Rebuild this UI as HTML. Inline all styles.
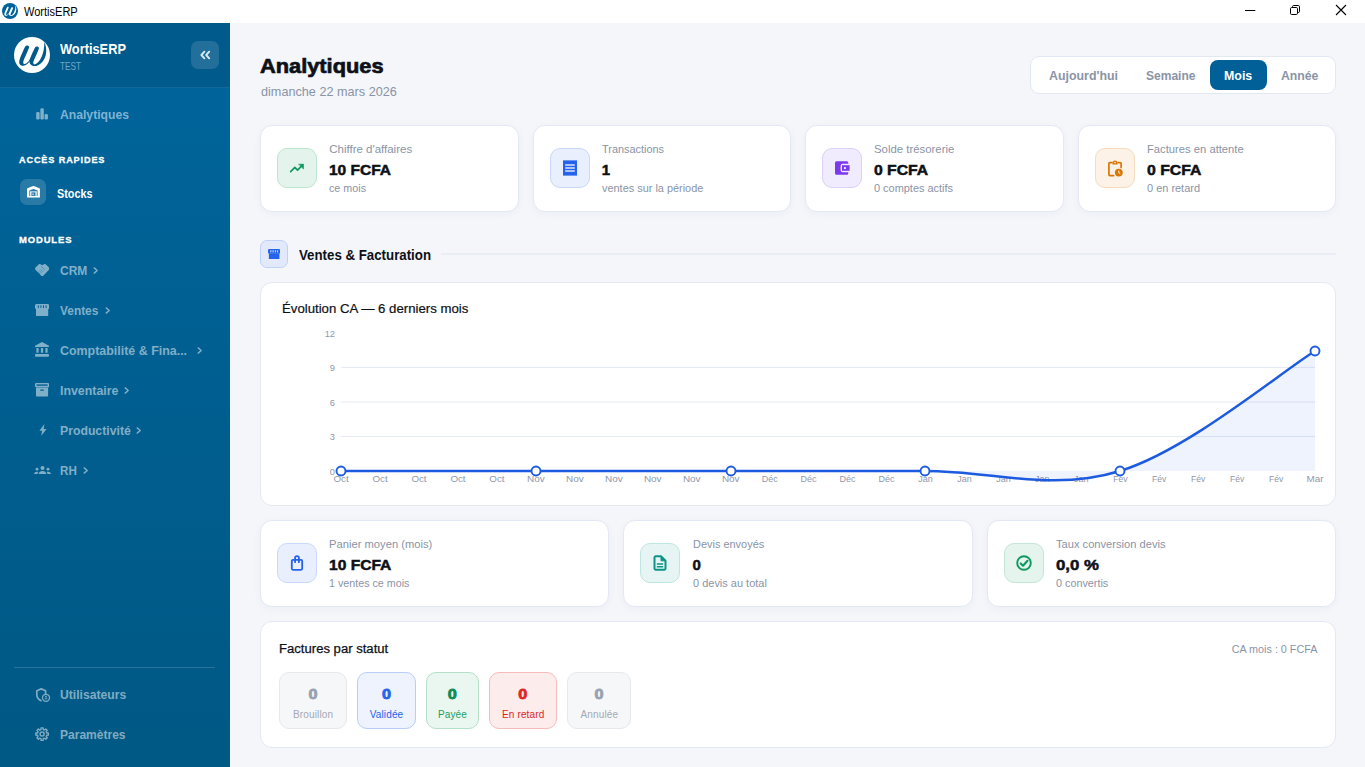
<!DOCTYPE html>
<html lang="fr">
<head>
<meta charset="utf-8">
<title>WortisERP</title>
<style>
*{box-sizing:border-box;margin:0;padding:0}
html,body{width:1365px;height:767px;overflow:hidden;background:#f4f6fa;font-family:"Liberation Sans",sans-serif;color:#0f172a}
.abs{position:absolute}
.t{position:absolute;white-space:nowrap;line-height:1}
#titlebar{position:absolute;left:0;top:0;width:1365px;height:23px;background:#fff}
#sidebar{position:absolute;left:0;top:23px;width:230px;height:744px;background:linear-gradient(180deg,#00659c 0%,#005884 100%)}
#sbhead{position:absolute;left:0;top:0;width:230px;height:65px;background:#005a8b;border-bottom:1px solid #12689a}
.nav{color:#7fb3d3;font-size:13px;font-weight:bold}
.sec{color:#fff;font-size:9.500px;font-weight:bold;letter-spacing:.9px;-webkit-text-stroke:.3px #fff}
.card{position:absolute;background:#fff;border:1px solid #e3e8f3;border-radius:12px;box-shadow:0 2px 8px rgba(30,50,100,.04)}
.ibox{position:absolute;width:40px;height:40px;border-radius:10px;border:1px solid}
.lbl{font-size:11.5px;color:#8a94a6}
.val{font-size:15px;font-weight:bold;color:#0d1117;-webkit-text-stroke:0.5px #0d1117}
.sub{font-size:11.5px;color:#8a94a6}
.seg{font-size:13px;font-weight:bold;color:#8a94a6}
.pn{font-size:15px;font-weight:bold;line-height:16px;margin-top:12.200px;-webkit-text-stroke:0.800px currentColor;transform:scaleX(1.08)}
.pl{font-size:10px;line-height:12px;margin-top:7.100px;white-space:nowrap;letter-spacing:.150px}
</style>
</head>
<body>

<div id="titlebar">
<svg class="abs" style="left:2px;top:3px" width="16" height="16" viewBox="0 0 36 36"><circle cx="18" cy="18" r="18" fill="#00629b"/><g fill="#fff" stroke="none"><path d="M11.400 9.300C12.200 8 15.400 8.500 15.100 10.300C14.600 12.800 10.300 21.300 9.400 24.200C8.900 26 9.600 27.300 11 27C13.200 26.400 15.600 23.200 17.600 19.400L16.800 22.400C15 25.600 12.500 28.300 9.600 28.700C6.600 29 4.700 27 5.300 24C6 20.500 9.800 12.300 11.400 9.300Z"/><path d="M21.200 10.200C22 8.900 25.200 9.400 24.900 11.200C24.400 13.800 20.300 21.800 19.400 24.800C18.900 26.600 19.700 27.700 21.200 27.300C26 25.800 30.600 16 30.300 5C33.200 11 33.300 19.500 28 25.200C24.800 28.600 21.300 29.600 19 28.900C16.300 28 15 26.400 15.500 23.600C16 20.800 19.600 13.200 21.200 10.200Z"/></g></svg>
<div class="t" style="left:24px;top:5.800px;font-size:12px;color:#000;transform:scaleX(0.919);transform-origin:left top">WortisERP</div>
<svg class="abs" style="left:1244px;top:4px" width="12" height="12" viewBox="0 0 12 12"><path d="M1 6.500h10.300" stroke="#000" stroke-width="1"/></svg>
<svg class="abs" style="left:1289px;top:4px" width="12" height="12" viewBox="0 0 12 12" fill="none" stroke="#000" stroke-width="1"><rect x="1.500" y="3.500" width="7" height="7" rx="1.200"/><path d="M3.500 3.500V2.700a1.200 1.200 0 0 1 1.200-1.200H9.300a1.200 1.200 0 0 1 1.200 1.200V7.300a1.200 1.200 0 0 1-1.200 1.200H8.500"/></svg>
<svg class="abs" style="left:1335px;top:4px" width="12" height="12" viewBox="0 0 12 12"><path d="M1 1L11 11M11 1L1 11" stroke="#000" stroke-width="1.100"/></svg>
</div>
<div id="sidebar">
<div id="sbhead">
<svg class="abs" style="left:14px;top:14px" width="36" height="36" viewBox="0 0 36 36"><circle cx="18" cy="18" r="18" fill="#fff"/><g fill="#005a8b" stroke="none"><path d="M11.400 9.300C12.200 8 15.400 8.500 15.100 10.300C14.600 12.800 10.300 21.300 9.400 24.200C8.900 26 9.600 27.300 11 27C13.200 26.400 15.600 23.200 17.600 19.400L16.800 22.400C15 25.600 12.500 28.300 9.600 28.700C6.600 29 4.700 27 5.300 24C6 20.500 9.800 12.300 11.400 9.300Z"/><path d="M21.200 10.200C22 8.900 25.200 9.400 24.900 11.200C24.400 13.800 20.300 21.800 19.400 24.800C18.900 26.600 19.700 27.700 21.200 27.300C26 25.800 30.600 16 30.300 5C33.200 11 33.300 19.500 28 25.200C24.800 28.600 21.300 29.600 19 28.900C16.300 28 15 26.400 15.500 23.600C16 20.800 19.600 13.200 21.200 10.200Z"/></g></svg>
<div class="t" style="left:60px;top:19px;font-size:14px;font-weight:bold;color:#fff;transform:scaleX(0.915);transform-origin:left top">WortisERP</div>
<div class="t" style="left:60px;top:38px;font-size:10.5px;color:#6fa8cb;transform:scaleX(0.782);transform-origin:left top">TEST</div>
<div class="abs" style="left:191px;top:18px;width:28px;height:28px;border-radius:7px;background:rgba(255,255,255,.13)"></div>
<svg class="abs" style="left:199px;top:26px" width="12" height="12" viewBox="0 0 12 12" fill="none" stroke="#d8e8f2" stroke-width="1.900" stroke-linecap="round" stroke-linejoin="round"><path d="M5.400 2.700L2.400 6L5.400 9.300M10.200 2.700L7.200 6L10.200 9.300"/></svg>
</div>
<svg class="abs" style="left:36.2px;top:85px" width="12" height="11.7" viewBox="0 0 12 11.700" fill="#80b1cc"><rect x="0.200" y="3.900" width="3.400" height="7.700" rx="1.300"/><rect x="4.400" y="0.200" width="3.400" height="11.400" rx="1.300"/><rect x="8.600" y="6.100" width="3.300" height="5.500" rx="1.300"/></svg>
<div class="t nav" style="left:60.400px;top:85px;transform:scaleX(0.936);transform-origin:left top">Analytiques</div>
<div class="t sec" style="left:18.600px;top:132.300px;transform:scaleX(0.961);transform-origin:left top">ACCÈS RAPIDES</div>
<div class="abs" style="left:20px;top:156px;width:26px;height:26px;border-radius:7px;background:rgba(255,255,255,.16)"></div>
<svg class="abs" style="left:26.9px;top:163.4px" width="12.9" height="11.5" viewBox="0 0 12.900 11.500" ><path d="M0 11.500V2.900c0-.3.200-.6.500-.7L6 .1c.3-.1.600-.1.900 0l5.500 2.100c.3.100.5.400.5.700v8.600z" fill="#fff"/><path d="M2.300 4.600L6.450 2.900 10.600 4.600V9.900H2.300z" fill="#2679a8"/><path d="M3 5.300h6.900v4.600H3z" fill="#fff" fill-opacity=".85"/><path d="M4.500 6.400h3.900v3.500H4.500z" fill="#2679a8"/><path d="M5.300 7.400h1.500v1.500H5.300z" fill="#fff" fill-opacity=".7"/></svg>
<div class="t" style="left:56.600px;top:165px;font-size:12.500px;font-weight:bold;color:#fff;transform:scaleX(0.866);transform-origin:left top">Stocks</div>
<div class="t sec" style="left:18.800px;top:212.300px;transform:scaleX(0.992);transform-origin:left top">MODULES</div>
<svg class="abs" style="left:34.8px;top:240.8px" width="14.5" height="12.3" viewBox="0 0 14.500 12.300" fill="#80b0ca"><path d="M3.900 0.300c.5-.3 1.100-.3 1.600 0L7.250 1.300 9 0.300c.5-.3 1.100-.3 1.600 0l3.400 3.300c.6.600.6 1.500.1 2.100L8 11.900c-.4.400-1.100.4-1.500 0L.4 5.700c-.5-.6-.5-1.500.1-2.100z"/><path d="M5.900 2.200l3.900 3.800M4.300 6.700l2.400 2.400M5.600 5.500l2.400 2.400M3 7.900l2.400 2.400" stroke="#006194" stroke-width="0.550" stroke-opacity=".7" fill="none"/></svg>
<div class="t nav" style="left:60.300px;top:241px;color:#80b0ca;transform:scaleX(0.925);transform-origin:left top">CRM</div>
<svg class="abs" style="left:93px;top:244px" width="6" height="7" viewBox="0 0 6 7" fill="none" stroke="#80b0ca" stroke-width="1.400" stroke-linecap="round" stroke-linejoin="round"><path d="M1.200 0.900L4.200 3.500L1.200 6.100"/></svg>
<svg class="abs" style="left:35px;top:280.9px" width="14.2" height="12.2" viewBox="0 0 14.200 12.200" fill="#80afc9"><path d="M1.500 0h11.200c.8 0 1.500.7 1.500 1.500v2.300c0 .9-.6 1.500-1.400 1.500H1.400C.6 5.300 0 4.700 0 3.800V1.500C0 .7.700 0 1.500 0z"/><path d="M1 5h12.200V11.200c0 .6-.4 1-1 1H2c-.6 0-1-.4-1-1z"/><path d="M3.300 1.300v2.700M5.900 1.300v2.700M8.500 1.300v2.700M11.100 1.300v2.700" stroke="#006093" stroke-width="1" fill="none"/></svg>
<div class="t nav" style="left:60.300px;top:281px;color:#80afc9;transform:scaleX(0.914);transform-origin:left top">Ventes</div>
<svg class="abs" style="left:105px;top:284px" width="6" height="7" viewBox="0 0 6 7" fill="none" stroke="#80afc9" stroke-width="1.400" stroke-linecap="round" stroke-linejoin="round"><path d="M1.200 0.900L4.200 3.500L1.200 6.100"/></svg>
<svg class="abs" style="left:35px;top:319.3px" width="14" height="14.7" viewBox="0 0 14 14.700" fill="#80afc8"><path d="M7 0L14 3.700V5H0V3.700z"/><rect x="1.400" y="6" width="2.200" height="4.800" rx=".4"/><rect x="5.900" y="6" width="2.200" height="4.800" rx=".4"/><rect x="10.400" y="6" width="2.200" height="4.800" rx=".4"/><rect x="0" y="12" width="14" height="2.700" rx=".9"/></svg>
<div class="t nav" style="left:60.300px;top:321px;color:#80afc8;transform:scaleX(0.956);transform-origin:left top">Comptabilité &amp; Fina...</div>
<svg class="abs" style="left:197px;top:324px" width="6" height="7" viewBox="0 0 6 7" fill="none" stroke="#80afc8" stroke-width="1.400" stroke-linecap="round" stroke-linejoin="round"><path d="M1.200 0.900L4.200 3.500L1.200 6.100"/></svg>
<svg class="abs" style="left:35px;top:360.2px" width="14.1" height="13.6" viewBox="0 0 14.100 13.600" fill="#80afc8"><rect x="0" y="0" width="14.100" height="4.300" rx="1.200"/><rect x="1.500" y="1.400" width="11.100" height="1.400" fill="#005f90"/><path d="M1 4.600h12.100v7.800c0 .7-.5 1.200-1.200 1.200H2.200c-.7 0-1.200-.5-1.200-1.200z"/><rect x="5.200" y="6.400" width="3.700" height="1.400" rx=".5" fill="#005f90"/></svg>
<div class="t nav" style="left:60.300px;top:361px;color:#80afc8;transform:scaleX(0.951);transform-origin:left top">Inventaire</div>
<svg class="abs" style="left:124px;top:364px" width="6" height="7" viewBox="0 0 6 7" fill="none" stroke="#80afc8" stroke-width="1.400" stroke-linecap="round" stroke-linejoin="round"><path d="M1.200 0.900L4.200 3.500L1.200 6.100"/></svg>
<svg class="abs" style="left:38.5px;top:401.2px" width="8" height="11.8" viewBox="0 0 8 11.800" fill="#80aec7"><path d="M5.400 0L0.400 6.700H3.100L2.300 11.800L7.600 4.900H4.700z"/></svg>
<div class="t nav" style="left:60.300px;top:401px;color:#80aec7;transform:scaleX(0.942);transform-origin:left top">Productivité</div>
<svg class="abs" style="left:136px;top:404px" width="6" height="7" viewBox="0 0 6 7" fill="none" stroke="#80aec7" stroke-width="1.400" stroke-linecap="round" stroke-linejoin="round"><path d="M1.200 0.900L4.200 3.500L1.200 6.100"/></svg>
<svg class="abs" style="left:33.9px;top:442.6px" width="17" height="8.6" viewBox="0 0 17 8.600" fill="#80aec6"><circle cx="8.500" cy="2" r="2"/><path d="M4.600 8.600c0-2.200 1.600-3.500 3.900-3.500s3.900 1.300 3.900 3.500z"/><circle cx="3" cy="3.200" r="1.400"/><path d="M0 8.600c0-1.800 1.200-2.800 3-2.800.5 0 1 .1 1.300.3-.6.700-.9 1.500-.9 2.500z"/><circle cx="14" cy="3.200" r="1.400"/><path d="M17 8.600c0-1.800-1.200-2.800-3-2.800-.5 0-1 .1-1.300.3.600.7.900 1.500.9 2.500z"/></svg>
<div class="t nav" style="left:60.300px;top:441px;color:#80aec6;transform:scaleX(0.895);transform-origin:left top">RH</div>
<svg class="abs" style="left:83px;top:444px" width="6" height="7" viewBox="0 0 6 7" fill="none" stroke="#80aec6" stroke-width="1.400" stroke-linecap="round" stroke-linejoin="round"><path d="M1.200 0.900L4.200 3.500L1.200 6.100"/></svg>
<div class="abs" style="left:14px;top:644px;width:201px;height:1px;background:rgba(255,255,255,.16)"></div>
<svg class="abs" style="left:35px;top:665px" width="15.5" height="14" viewBox="0 0 15.500 14" ><path d="M6.200 0.900L10.600 2.700V5.600M6.200 0.900L1.800 2.700V6.300C1.800 9.200 3.500 11.600 5.900 12.600" fill="none" stroke="#80acc3" stroke-width="1.700" stroke-linejoin="round" stroke-linecap="round"/><circle cx="11" cy="9.800" r="3.500" fill="none" stroke="#80acc3" stroke-width="1.300"/><circle cx="11" cy="8.700" r="0.900" fill="#80acc3"/><path d="M9.200 11.300c.3-.8 1-1.100 1.800-1.100s1.500.3 1.800 1.100z" fill="#80acc3"/></svg>
<div class="t nav" style="left:60.300px;top:665px;color:#80acc3;transform:scaleX(0.935);transform-origin:left top">Utilisateurs</div>
<svg class="abs" style="left:35px;top:704.2px" width="14.2" height="14.2" viewBox="0.600 0.600 22.800 22.800" fill="none" stroke="#80acc2" stroke-width="2.200" stroke-linejoin="round"><path d="M10.17 4.62 L10.33 1.94 L13.67 1.94 L13.83 4.62 L15.92 5.49 L17.93 3.70 L20.30 6.07 L18.51 8.08 L19.38 10.17 L22.06 10.33 L22.06 13.67 L19.38 13.83 L18.51 15.92 L20.30 17.93 L17.93 20.30 L15.92 18.51 L13.83 19.38 L13.67 22.06 L10.33 22.06 L10.17 19.38 L8.08 18.51 L6.07 20.30 L3.70 17.93 L5.49 15.92 L4.62 13.83 L1.94 13.67 L1.94 10.33 L4.62 10.17 L5.49 8.08 L3.70 6.07 L6.07 3.70 L8.08 5.49Z"/><circle cx="12" cy="12" r="3.300"/></svg>
<div class="t nav" style="left:60.300px;top:705px;color:#80acc2;transform:scaleX(0.925);transform-origin:left top">Paramètres</div>
</div>
<div id="main">
<div class="t" style="left:260.300px;top:55.300px;font-size:21px;font-weight:bold;color:#0d1117;-webkit-text-stroke:0.7px #0d1117;transform:scaleX(1.038);transform-origin:left top">Analytiques</div>
<div class="t" style="left:260.500px;top:85.200px;font-size:13px;color:#8a94a6;transform:scaleX(0.974);transform-origin:left top">dimanche 22 mars 2026</div>
<div class="abs" style="left:1030px;top:56px;width:306px;height:38px;background:#fff;border:1px solid #e2e8f2;border-radius:9px"></div>
<div class="abs" style="left:1210px;top:60px;width:56.600px;height:30px;background:#006097;border-radius:8px"></div>
<div class="t seg" style="left:1048.6px;top:69px;transform:scaleX(0.953);transform-origin:left top">Aujourd'hui</div>
<div class="t seg" style="left:1146.2px;top:69px;transform:scaleX(0.926);transform-origin:left top">Semaine</div>
<div class="t seg" style="left:1224.3px;top:69px;color:#fff;transform:scaleX(0.955);transform-origin:left top">Mois</div>
<div class="t seg" style="left:1280.7px;top:69px;transform:scaleX(0.941);transform-origin:left top">Année</div>
<div class="card" style="left:260px;top:125px;width:258.5px;height:87px"></div>
<div class="ibox" style="left:277px;top:148px;background:#e4f4ec;border-color:#bfe5d0"></div>
<svg class="abs" style="left:289px;top:160.4px" width="16" height="16" viewBox="0 0 24 24" fill="none" stroke="#0f9960" stroke-width="2.600" stroke-linecap="round" stroke-linejoin="round"><path d="M2.500 17.500l6.300-6.300 4 4 7.500-7.700"/><path d="M15 6.300h6.700v6.700z" fill="#0f9960" stroke-width="1"/></svg>
<div class="t lbl" style="left:329.2px;top:144.4px;transform:scaleX(1.000);transform-origin:left top">Chiffre d'affaires</div>
<div class="t val" style="left:329.2px;top:161.9px;transform:scaleX(1.033);transform-origin:left top">10 FCFA</div>
<div class="t sub" style="left:329.2px;top:182.5px;transform:scaleX(0.934);transform-origin:left top">ce mois</div>

<div class="card" style="left:532.5px;top:125px;width:258.5px;height:87px"></div>
<div class="ibox" style="left:549.5px;top:148px;background:#e9effd;border-color:#c9d8fb"></div>
<svg class="abs" style="left:561.5px;top:160.4px" width="16" height="16" viewBox="0 0 16 16"><path d="M1 0.800l1-.8 1 .8 1-.8 1 .8 1-.8 1 .8 1-.8 1 .8 1-.8 1 .8 1-.8 1 .8 1-.8 1 .8V15.200l-1 .8-1-.8-1 .8-1-.8-1 .8-1-.8-1 .8-1-.8-1 .8-1-.8-1 .8-1-.8-1 .8-1-.8z" fill="#2563eb"/><path d="M3.200 5h9.600M3.200 8h9.600M3.200 11h9.600" stroke="#dbe6fd" stroke-width="1.500"/></svg>
<div class="t lbl" style="left:601.7px;top:144.4px;transform:scaleX(0.948);transform-origin:left top">Transactions</div>
<div class="t val" style="left:601.7px;top:161.9px">1</div>
<div class="t sub" style="left:601.7px;top:182.5px;transform:scaleX(0.949);transform-origin:left top">ventes sur la période</div>

<div class="card" style="left:805px;top:125px;width:258.5px;height:87px"></div>
<div class="ibox" style="left:822px;top:148px;background:#f1ebfe;border-color:#ddd0fb"></div>
<svg class="abs" style="left:834px;top:160.4px" width="16" height="16" viewBox="0 0 16 16"><path d="M2.500 1.200h10.300a1.500 1.500 0 0 1 1.500 1.500v1.100H8.600a2 2 0 0 0-2 2v4.400a2 2 0 0 0 2 2h5.700v1.100a1.500 1.500 0 0 1-1.500 1.500H2.500a1.500 1.500 0 0 1-1.500-1.500V2.700a1.500 1.500 0 0 1 1.500-1.500z" fill="#7c3aed"/><rect x="8" y="5.200" width="7.600" height="5.600" fill="#7c3aed"/><rect x="10" y="7.100" width="1.900" height="1.900" fill="#f1ebfe"/></svg>
<div class="t lbl" style="left:874.2px;top:144.4px;transform:scaleX(0.989);transform-origin:left top">Solde trésorerie</div>
<div class="t val" style="left:874.2px;top:161.9px;transform:scaleX(1.049);transform-origin:left top">0 FCFA</div>
<div class="t sub" style="left:874.2px;top:182.5px;transform:scaleX(0.951);transform-origin:left top">0 comptes actifs</div>

<div class="card" style="left:1077.5px;top:125px;width:258.5px;height:87px"></div>
<div class="ibox" style="left:1094.5px;top:148px;background:#fcf2e7;border-color:#f5dcbc"></div>
<svg class="abs" style="left:1106.5px;top:160.4px" width="16" height="17" viewBox="0 0 16 17"><path d="M4.800 2.600H2.900a1 1 0 0 0-1 1v11a1 1 0 0 0 1 1h3.700M11.200 2.600h1.900a1 1 0 0 1 1 1v3.800" fill="none" stroke="#d97706" stroke-width="1.700" stroke-linecap="round"/><path d="M5.400 4.600V3.200a2.600 2.600 0 0 1 5.200 0v1.400z" fill="#d97706"/><circle cx="8" cy="2.600" r=".8" fill="#fcf2e7"/><circle cx="11.800" cy="12.600" r="3.900" fill="#d97706"/><path d="M11.800 10.600v2.200l1.500.9" stroke="#fcf2e7" stroke-width="1" fill="none"/></svg>
<div class="t lbl" style="left:1146.7px;top:144.4px;transform:scaleX(0.976);transform-origin:left top">Factures en attente</div>
<div class="t val" style="left:1146.7px;top:161.9px;transform:scaleX(1.054);transform-origin:left top">0 FCFA</div>
<div class="t sub" style="left:1146.7px;top:182.5px;transform:scaleX(0.953);transform-origin:left top">0 en retard</div>

<div class="abs" style="left:260.200px;top:240px;width:28px;height:28px;border-radius:7px;background:#e1e9fb;border:1px solid #bfd1f9"></div>
<svg class="abs" style="left:268px;top:248.700px" width="12.300" height="10.600" viewBox="0 0 14.200 12.200" fill="#2563eb"><path d="M1.500 0h11.200c.8 0 1.500.7 1.500 1.500v2.300c0 .9-.6 1.500-1.400 1.500H1.400C.6 5.300 0 4.700 0 3.800V1.500C0 .7.700 0 1.500 0z"/><path d="M1 5h12.200V11.200c0 .6-.4 1-1 1H2c-.6 0-1-.4-1-1z"/><path d="M3.300 1.300v2.700M5.900 1.300v2.700M8.500 1.300v2.700M11.100 1.300v2.700" stroke="#e8eefc" stroke-width="1" fill="none"/></svg>
<div class="t" style="left:298.800px;top:248px;font-size:14px;font-weight:bold;color:#0d1117;transform:scaleX(0.948);transform-origin:left top">Ventes &amp; Facturation</div>
<div class="abs" style="left:441px;top:253px;width:895px;height:2px;background:#e9edf6"></div>
<div class="card" style="left:260px;top:282px;width:1076px;height:224px;box-shadow:none"></div>
<div class="t" style="left:281.800px;top:302.500px;font-size:12.500px;color:#0d1117;-webkit-text-stroke:0.2px #0d1117;transform:scaleX(1.056);transform-origin:left top">Évolution CA — 6 derniers mois</div>
<svg class="abs" style="left:300px;top:320px" width="1040" height="180" viewBox="300 320 1040 180" font-family="Liberation Sans, sans-serif" font-size="9.300" fill="#8f98aa">
<line x1="341" x2="1315" y1="367.4" y2="367.4" stroke="#e4e9f5" stroke-width="1"/>
<line x1="341" x2="1315" y1="402.0" y2="402.0" stroke="#e4e9f5" stroke-width="1"/>
<line x1="341" x2="1315" y1="436.5" y2="436.5" stroke="#e4e9f5" stroke-width="1"/>
<text x="335" y="336.8" text-anchor="end">12</text>
<text x="335" y="371.0" text-anchor="end">9</text>
<text x="335" y="405.6" text-anchor="end">6</text>
<text x="335" y="440.1" text-anchor="end">3</text>
<text x="335" y="474.7" text-anchor="end">0</text>
<text x="333.5" y="482" textLength="15.2" lengthAdjust="spacingAndGlyphs">Oct</text>
<text x="372.5" y="482" textLength="15.2" lengthAdjust="spacingAndGlyphs">Oct</text>
<text x="411.4" y="482" textLength="15.2" lengthAdjust="spacingAndGlyphs">Oct</text>
<text x="450.4" y="482" textLength="15.2" lengthAdjust="spacingAndGlyphs">Oct</text>
<text x="489.3" y="482" textLength="15.2" lengthAdjust="spacingAndGlyphs">Oct</text>
<text x="527.1" y="482" textLength="17.7" lengthAdjust="spacingAndGlyphs">Nov</text>
<text x="566.0" y="482" textLength="17.7" lengthAdjust="spacingAndGlyphs">Nov</text>
<text x="605.0" y="482" textLength="17.7" lengthAdjust="spacingAndGlyphs">Nov</text>
<text x="643.9" y="482" textLength="17.7" lengthAdjust="spacingAndGlyphs">Nov</text>
<text x="682.9" y="482" textLength="17.7" lengthAdjust="spacingAndGlyphs">Nov</text>
<text x="721.9" y="482" textLength="17.7" lengthAdjust="spacingAndGlyphs">Nov</text>
<text x="761.7" y="482" textLength="16" lengthAdjust="spacingAndGlyphs">Déc</text>
<text x="800.6" y="482" textLength="16" lengthAdjust="spacingAndGlyphs">Déc</text>
<text x="839.6" y="482" textLength="16" lengthAdjust="spacingAndGlyphs">Déc</text>
<text x="878.5" y="482" textLength="16" lengthAdjust="spacingAndGlyphs">Déc</text>
<text x="918.2" y="482" textLength="14.5" lengthAdjust="spacingAndGlyphs">Jan</text>
<text x="957.2" y="482" textLength="14.5" lengthAdjust="spacingAndGlyphs">Jan</text>
<text x="996.2" y="482" textLength="14.5" lengthAdjust="spacingAndGlyphs">Jan</text>
<text x="1035.1" y="482" textLength="14.5" lengthAdjust="spacingAndGlyphs">Jan</text>
<text x="1074.1" y="482" textLength="14.5" lengthAdjust="spacingAndGlyphs">Jan</text>
<text x="1113.2" y="482" textLength="14.3" lengthAdjust="spacingAndGlyphs">Fév</text>
<text x="1152.1" y="482" textLength="14.3" lengthAdjust="spacingAndGlyphs">Fév</text>
<text x="1191.1" y="482" textLength="14.3" lengthAdjust="spacingAndGlyphs">Fév</text>
<text x="1230.0" y="482" textLength="14.3" lengthAdjust="spacingAndGlyphs">Fév</text>
<text x="1269.0" y="482" textLength="14.3" lengthAdjust="spacingAndGlyphs">Fév</text>
<text x="1306.6" y="482" textLength="17" lengthAdjust="spacingAndGlyphs">Mar</text>
<path d="M341,471 C341,471 467.75,471 536,471 C604.25,471 662.75,471 731,471 C799.25,471 856.75,471 925,471 C993.25,471 1051.75,492 1120,471 C1188.25,450 1280.9,372 1315,351 L1315,471 L341,471 Z" fill="#2563eb" fill-opacity="0.075"/>
<path d="M341,471 C341,471 467.75,471 536,471 C604.25,471 662.75,471 731,471 C799.25,471 856.75,471 925,471 C993.25,471 1051.75,492 1120,471 C1188.25,450 1280.9,372 1315,351" fill="none" stroke="#1c5ae0" stroke-width="2.500" stroke-linecap="round"/>
<circle cx="341" cy="471" r="4.500" fill="#fff" stroke="#1c5ae0" stroke-width="1.900"/>
<circle cx="536" cy="471" r="4.500" fill="#fff" stroke="#1c5ae0" stroke-width="1.900"/>
<circle cx="731" cy="471" r="4.500" fill="#fff" stroke="#1c5ae0" stroke-width="1.900"/>
<circle cx="925" cy="471" r="4.500" fill="#fff" stroke="#1c5ae0" stroke-width="1.900"/>
<circle cx="1120" cy="471" r="4.500" fill="#fff" stroke="#1c5ae0" stroke-width="1.900"/>
<circle cx="1315" cy="351" r="4.500" fill="#fff" stroke="#1c5ae0" stroke-width="1.900"/>
</svg>
<div class="card" style="left:260px;top:520px;width:349.3px;height:87px"></div>
<div class="ibox" style="left:277px;top:543px;background:#e9effd;border-color:#c9d8fb"></div>
<svg class="abs" style="left:289px;top:555.4px" width="16" height="16" viewBox="0 0 16 16" fill="none" stroke="#2563eb" stroke-width="1.800" stroke-linejoin="round"><rect x="2.800" y="4.800" width="10.400" height="10" rx="1.200"/><path d="M6.100 7.200V3.100a1.900 1.900 0 0 1 3.800 0V7.200" stroke-linecap="round"/></svg>
<div class="t lbl" style="left:329.2px;top:539.4px;transform:scaleX(0.974);transform-origin:left top">Panier moyen (mois)</div>
<div class="t val" style="left:329.2px;top:556.9px;transform:scaleX(1.038);transform-origin:left top">10 FCFA</div>
<div class="t sub" style="left:329.2px;top:577.5px;transform:scaleX(0.932);transform-origin:left top">1 ventes ce mois</div>

<div class="card" style="left:623.3px;top:520px;width:349.3px;height:87px"></div>
<div class="ibox" style="left:640.3px;top:543px;background:#e6f5f3;border-color:#bfe5e0"></div>
<svg class="abs" style="left:652.3px;top:555.4px" width="16" height="16" viewBox="0 0 16 16" fill="none" stroke="#0d9488" stroke-width="2" stroke-linejoin="round"><path d="M3.700 1.300H9L13.500 5.800V13.500a1.200 1.200 0 0 1-1.200 1.200H3.700a1.200 1.200 0 0 1-1.200-1.200V2.500a1.200 1.200 0 0 1 1.200-1.200z"/><path d="M9 1.300V5.800H13.500z" fill="#0d9488" stroke-width="1"/><path d="M4.800 8.900h6.400M4.800 11.700h6.400" stroke-width="1.500"/></svg>
<div class="t lbl" style="left:692.5px;top:539.4px;transform:scaleX(0.952);transform-origin:left top">Devis envoyés</div>
<div class="t val" style="left:692.5px;top:556.9px">0</div>
<div class="t sub" style="left:692.5px;top:577.5px;transform:scaleX(0.955);transform-origin:left top">0 devis au total</div>

<div class="card" style="left:986.7px;top:520px;width:349.3px;height:87px"></div>
<div class="ibox" style="left:1003.7px;top:543px;background:#e6f4ee;border-color:#c3e6d6"></div>
<svg class="abs" style="left:1015.7px;top:555.4px" width="16" height="16" viewBox="0 0 16 16" fill="none" stroke="#0f9960" stroke-width="1.900" stroke-linecap="round" stroke-linejoin="round"><circle cx="8" cy="8" r="6.800"/><path d="M4.700 8.400l2.300 2.300 4.500-4.900" stroke-width="2.100"/></svg>
<div class="t lbl" style="left:1055.9px;top:539.4px;transform:scaleX(0.968);transform-origin:left top">Taux conversion devis</div>
<div class="t val" style="left:1055.9px;top:556.9px;transform:scaleX(1.121);transform-origin:left top">0,0 %</div>
<div class="t sub" style="left:1055.9px;top:577.5px;transform:scaleX(0.940);transform-origin:left top">0 convertis</div>

<div class="card" style="left:260px;top:621px;width:1076px;height:127px;box-shadow:none"></div>
<div class="t" style="left:279.400px;top:643.300px;font-size:12.500px;color:#0d1117;-webkit-text-stroke:0.25px #0d1117;transform:scaleX(1.048);transform-origin:left top">Factures par statut</div>
<div class="t" style="right:48px;top:644px;font-size:11px;color:#8a94a6;transform:scaleX(0.980);transform-origin:right top">CA mois : 0 FCFA</div>
<div class="abs pill" style="left:279.2px;top:672.400px;width:67.8px;height:56.400px;background:#f6f7f9;border:1px solid #e6e8ec;border-radius:10px;text-align:center"><div class="pn" style="color:#9aa1ae">0</div><div class="pl" style="color:#a3a9b5">Brouillon</div></div>
<div class="abs pill" style="left:357px;top:672.400px;width:59px;height:56.400px;background:#eef3fe;border:1px solid #b9cdf9;border-radius:10px;text-align:center"><div class="pn" style="color:#2563eb">0</div><div class="pl" style="color:#2563eb">Validée</div></div>
<div class="abs pill" style="left:426.2px;top:672.400px;width:52.6px;height:56.400px;background:#e9f7f0;border:1px solid #b4e0c8;border-radius:10px;text-align:center"><div class="pn" style="color:#0f8a55">0</div><div class="pl" style="color:#1e9e65">Payée</div></div>
<div class="abs pill" style="left:489.4px;top:672.400px;width:67.6px;height:56.400px;background:#fdecec;border:1px solid #f6bcbc;border-radius:10px;text-align:center"><div class="pn" style="color:#dc2626">0</div><div class="pl" style="color:#dc2626">En retard</div></div>
<div class="abs pill" style="left:567.4px;top:672.400px;width:64px;height:56.400px;background:#f6f7f9;border:1px solid #e6e8ec;border-radius:10px;text-align:center"><div class="pn" style="color:#9aa1ae">0</div><div class="pl" style="color:#a3a9b5">Annulée</div></div>
</div>
</body>
</html>
